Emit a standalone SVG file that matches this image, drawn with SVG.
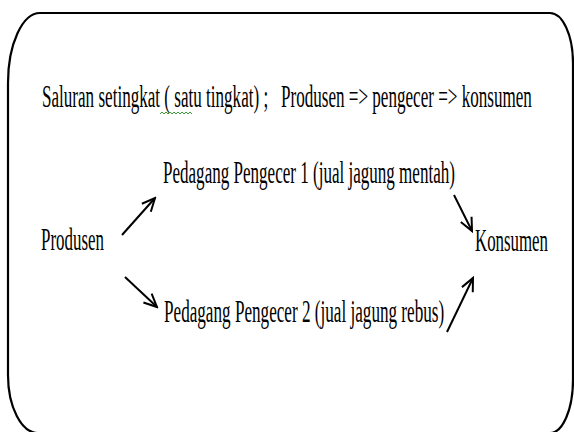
<svg xmlns="http://www.w3.org/2000/svg" width="574" height="432" viewBox="0 0 574 432">
<style>
text{font-family:"Liberation Serif","Times New Roman",serif;font-size:31px;fill:#000;white-space:pre}
.frame{fill:none;stroke:#000;stroke-width:2.2}
.edge{fill:none;stroke:#000;stroke-width:2;marker-end:url(#ah)}
</style>
<defs>
<marker id="ah" viewBox="0 0 16 16" refX="14" refY="8" markerWidth="16" markerHeight="16" markerUnits="userSpaceOnUse" orient="auto">
<path d="M1,2 L14,8 L1,14" fill="none" stroke="#000" stroke-width="2"/>
</marker>
</defs>
<rect width="574" height="432" fill="#fff"/>
<path class="frame" d="M40,13 H550 A23,50 0 0 1 573,63 V380 A23,53 0 0 1 550,433 H38 A30,58 0 0 1 8,375 V83 A32,70 0 0 1 40,13 Z"/>
<g id="title">
<text transform="translate(42,107) scale(0.551,1)">Saluran setingkat ( satu tingkat) ;   Produsen =&gt; pengecer =&gt; konsumen</text>
<polyline points="160,114 162,112 164,114 166,112 168,114 170,112 172,114 174,112 176,114 178,112 180,114 182,112 184,114 186,112 188,114 190,112 192,114" fill="none" stroke="#3a9a3a" stroke-width="1"/>
</g>
<g id="produsen"><text transform="translate(41,250) scale(0.546,1)">Produsen</text></g>
<g id="pengecer1"><text transform="translate(163,183) scale(0.55,1)">Pedagang Pengecer 1 (jual jagung mentah)</text></g>
<g id="pengecer2"><text transform="translate(164,322) scale(0.553,1)">Pedagang Pengecer 2 (jual jagung rebus)</text></g>
<g id="konsumen"><text transform="translate(475,251) scale(0.544,1)">Konsumen</text></g>
<g id="connectors">
<line class="edge" x1="122" y1="235" x2="155" y2="198"/>
<line class="edge" x1="125" y1="277" x2="157" y2="307"/>
<line class="edge" x1="454" y1="195" x2="472" y2="231"/>
<line class="edge" x1="447" y1="332" x2="473" y2="278"/>
</g>
</svg>
